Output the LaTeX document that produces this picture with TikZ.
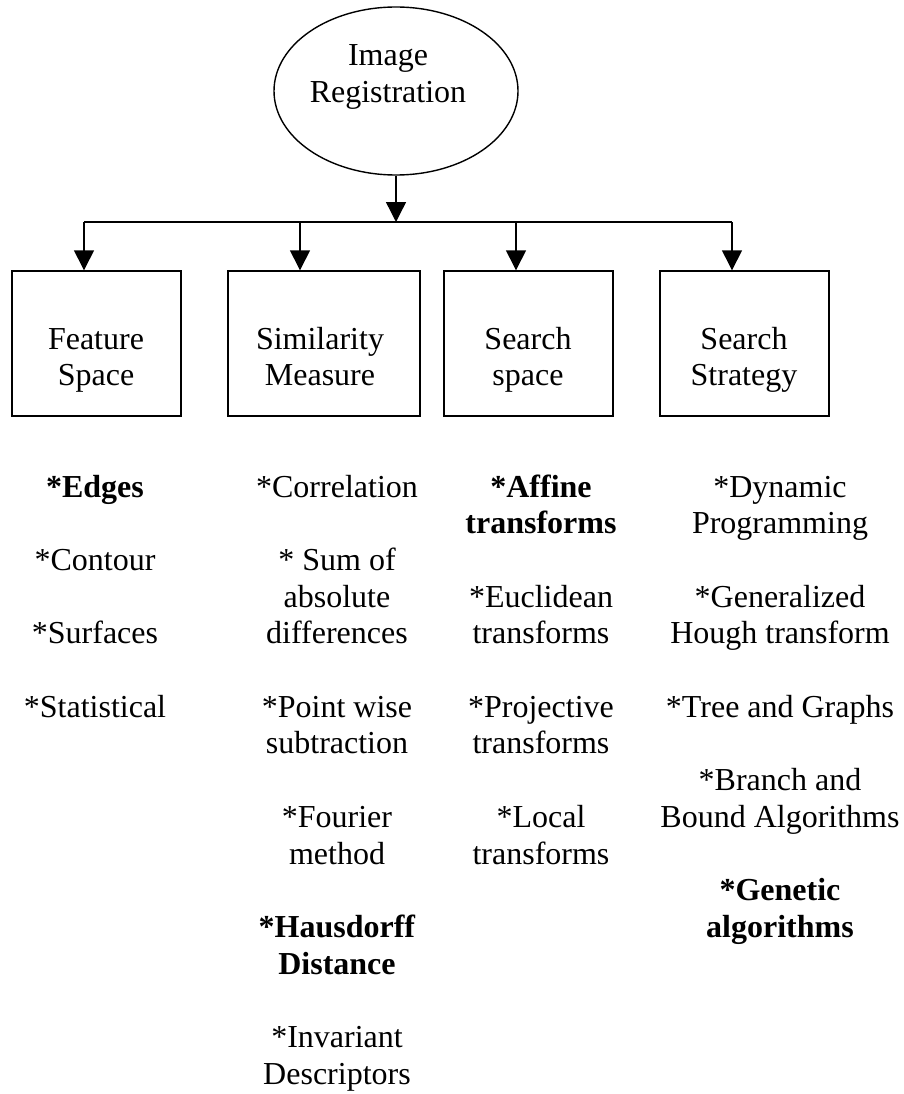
\documentclass[tikz,border=0pt]{standalone}
\usepackage{fontspec}
\setmainfont{Liberation Serif}
\usetikzlibrary{arrows.meta,shapes.geometric}
\newcommand\stack[1]{\begin{tabular}[t]{@{}c@{}}#1\end{tabular}}
\begin{document}
\begin{tikzpicture}[x=1pt,y=-1pt,
  txt/.style={anchor=base,inner sep=0pt,font=\fontsize{32}{36.7}\selectfont},
  boxnode/.style={draw,line width=1.4pt,rectangle,minimum height=145pt,inner sep=0pt},
  conn/.style={line width=1.4pt},
  arr/.style={conn,-{Triangle[length=20pt,width=20pt]}}]
\useasboundingbox (0,0) rectangle (904,1094);
\fill[white] (0,0) rectangle (904,1094);

% top ellipse
\node[ellipse,draw,line width=1.4pt,minimum width=244pt,minimum height=168pt,inner sep=0pt] (ell) at (396,91) {};
\node[txt] (ellt) at (388,66) {\stack{Image\\Registration}};

% bus
\coordinate (busL) at (84,222);
\coordinate (busR) at (732,222);
\coordinate (b2) at (300,222);
\coordinate (b3) at (516,222);
\draw[conn] (busL) -- (busR);
\draw[arr] (ell.south) -- (ell.south |- busL);

% boxes
\node[boxnode,minimum width=169pt] (box1) at (96.5,343.5) {};
\node[boxnode,minimum width=192pt] (box2) at (324,343.5) {};
\node[boxnode,minimum width=169pt] (box3) at (528.5,343.5) {};
\node[boxnode,minimum width=169pt] (box4) at (744.5,343.5) {};

\node[txt] (t1) at (96,349) {\stack{Feature\\Space}};
\node[txt] (t2) at (320,349) {\stack{Similarity\\Measure}};
\node[txt] (t3) at (528,349) {\stack{Search\\space}};
\node[txt] (t4) at (744,349) {\stack{Search\\Strategy}};

\draw[arr] (busL) -- (busL |- box1.north);
\draw[arr] (b2) -- (b2 |- box2.north);
\draw[arr] (b3) -- (b3 |- box3.north);
\draw[arr] (busR) -- (busR |- box4.north);

% column 1
\node[txt] (c1a) at (95,497) {\textbf{*Edges}};
\node[txt] (c1b) at (95,570.4) {*Contour};
\node[txt] (c1c) at (95,643.8) {*Surfaces};
\node[txt] (c1d) at (95,717.2) {*Statistical};

% column 2
\node[txt] (c2a) at (337,497) {*Correlation};
\node[txt] (c2b) at (337,570.4) {\stack{* Sum of\\absolute\\differences}};
\node[txt] (c2c) at (337,717.2) {\stack{*Point wise\\subtraction}};
\node[txt] (c2d) at (337,827.3) {\stack{*Fourier\\method}};
\node[txt] (c2e) at (337,937.4) {\stack{\textbf{*Hausdorff}\\\textbf{Distance}}};
\node[txt] (c2f) at (337,1047.5) {\stack{*Invariant\\Descriptors}};

% column 3
\node[txt] (c3a) at (541,497) {\stack{\textbf{*Affine}\\\textbf{transforms}}};
\node[txt] (c3b) at (541,607.1) {\stack{*Euclidean\\transforms}};
\node[txt] (c3c) at (541,717.2) {\stack{*Projective\\transforms}};
\node[txt] (c3d) at (541,827.3) {\stack{*Local\\transforms}};

% column 4
\node[txt] (c4a) at (780,497) {\stack{*Dynamic\\Programming}};
\node[txt] (c4b) at (780,607.1) {\stack{*Generalized\\Hough transform}};
\node[txt] (c4c) at (780,717.2) {*Tree and Graphs};
\node[txt] (c4d) at (780,790.6) {\stack{*Branch and\\Bound Algorithms}};
\node[txt] (c4e) at (780,900.7) {\stack{\textbf{*Genetic}\\\textbf{algorithms}}};
\end{tikzpicture}
\end{document}
